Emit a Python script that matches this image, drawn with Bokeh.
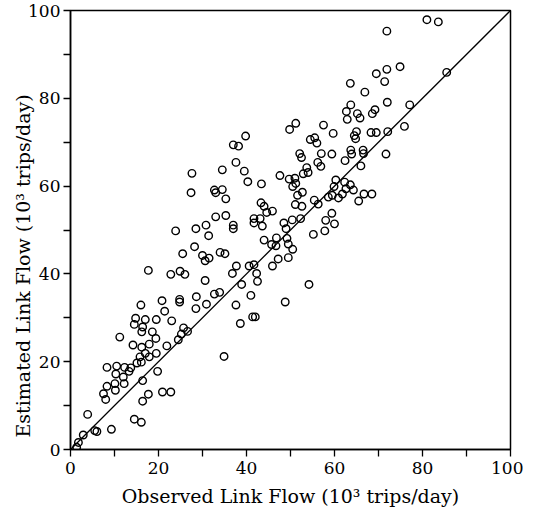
from bokeh.plotting import figure
from bokeh.models import Range1d, FixedTicker, Slope, ColumnDataSource, Title
from bokeh.embed import file_html
from bokeh.resources import INLINE

observed = [81.0, 83.6, 71.9, 74.9, 71.9, 69.5, 85.5, 63.6, 71.4, 66.9,
            72.0, 77.1, 63.7, 62.7, 65.2, 65.8, 62.9, 68.6, 69.2, 75.9,
            72.1, 68.3, 69.5, 64.5, 65.0, 64.8, 59.7, 57.5, 49.8, 51.2,
            54.5, 55.5, 56.0, 52.1, 52.5, 57.0, 59.4, 63.7, 63.9, 66.5,
            66.6, 62.4, 71.7, 66.0, 56.2, 56.9, 53.7, 54.0, 52.9, 47.6,
            49.7, 51.0, 51.2, 50.5, 60.3, 59.9, 62.3, 63.6, 64.3, 62.6,
            61.8, 60.9, 59.5, 58.6, 66.7, 68.5, 65.5, 52.7, 51.6, 51.1,
            52.6, 55.4, 56.3, 59.4, 58.0, 60.0, 57.8, 55.2, 50.4, 52.3,
            48.5, 49.0, 49.2, 49.5, 50.5, 49.5, 54.2, 48.8,
            23.9, 28.5, 30.8, 31.4, 33.0, 35.3, 37.0, 37.0, 41.7, 43.1,
            41.7, 43.6, 44.6, 45.9, 44.0, 43.3, 44.0, 45.7, 46.7, 46.8,
            45.9, 47.2, 28.2, 25.5, 30.0, 30.6, 31.5, 34.0, 35.1, 37.7,
            36.8, 40.6, 41.7, 42.3, 42.5, 38.9, 41.0, 37.6, 38.6, 41.4,
            42.0, 34.9, 17.7, 22.8, 24.9, 26.0, 30.6, 32.7, 33.9, 28.6,
            28.5, 30.9, 24.8, 24.8, 20.8, 21.4, 23.0, 16.0, 14.8, 14.5,
            17.0, 19.5, 16.4, 16.2, 18.6, 19.4, 25.7, 25.2, 26.6, 24.5,
            11.2, 14.2, 16.2, 17.9, 21.9, 15.8, 17.0, 17.9, 19.5, 16.1,
            15.1, 19.8, 16.4, 12.3, 13.7, 13.3, 12.0, 12.2, 10.5, 10.3,
            8.3, 10.2, 8.3, 7.5, 8.0, 10.1, 20.9, 22.8, 17.7, 16.4,
            14.5, 16.1, 3.9, 5.5, 6.0, 9.3, 2.9, 1.8, 1.4,
            39.8, 37.0, 38.2, 37.6, 27.6, 34.5, 39.5, 40.3, 43.4, 27.4,
            32.7, 33.0, 34.5, 35.3]

estimated = [97.9, 97.4, 95.3, 87.2, 86.6, 85.6, 85.9, 83.4, 83.8, 81.4,
             79.1, 78.5, 78.5, 77.0, 76.5, 75.5, 75.2, 76.5, 77.4, 73.6,
             72.4, 72.2, 72.2, 71.5, 72.4, 70.8, 72.0, 73.9, 72.9, 74.3,
             70.6, 71.0, 69.8, 67.4, 66.5, 67.4, 67.3, 68.2, 67.3, 68.2,
             67.4, 65.8, 67.3, 64.6, 65.4, 64.5, 64.2, 63.1, 62.8, 62.4,
             61.6, 61.8, 60.6, 59.9, 61.4, 59.9, 60.9, 60.3, 59.1, 59.4,
             58.2, 57.3, 57.9, 57.5, 58.2, 58.2, 56.6, 58.6, 57.9, 55.8,
             55.4, 56.8, 55.9, 53.8, 52.2, 51.4, 49.8, 49.0, 52.3, 52.6,
             51.6, 50.3, 48.1, 46.8, 45.6, 43.7, 37.6, 33.6,
             49.8, 50.3, 51.1, 48.7, 53.0, 53.3, 51.1, 50.3, 52.6, 52.6,
             51.6, 50.9, 54.0, 54.3, 55.4, 56.2, 47.7, 46.7, 46.4, 48.2,
             41.8, 43.4, 46.2, 44.6, 44.2, 43.0, 43.6, 44.9, 44.6, 41.8,
             40.1, 41.8, 42.1, 40.1, 38.3, 37.6, 35.1, 32.9, 28.7, 30.2,
             30.2, 21.2, 40.8, 39.9, 40.6, 39.9, 38.5, 35.4, 35.8, 34.8,
             32.1, 33.1, 34.2, 33.6, 33.9, 31.5, 29.3, 32.9, 29.9, 28.5,
             29.6, 29.6, 27.9, 26.8, 26.8, 25.3, 27.7, 26.3, 26.9, 25.0,
             25.6, 23.8, 23.3, 24.0, 23.6, 21.1, 21.9, 21.1, 21.9, 19.9,
             19.7, 17.8, 15.7, 18.7, 18.6, 17.8, 16.5, 15.0, 19.0, 17.2,
             18.7, 13.5, 14.4, 12.7, 11.4, 15.0, 13.1, 13.1, 12.6, 11.0,
             6.9, 6.2, 8.0, 4.3, 4.1, 4.6, 3.3, 1.6, 0.5,
             71.4, 69.4, 69.1, 65.4, 62.9, 63.7, 63.4, 61.0, 60.5, 58.5,
             59.1, 58.5, 59.2, 57.1]

tick_values = [0, 10, 20, 30, 40, 50, 60, 70, 80, 90, 100]
tick_labels = {10: "", 30: "", 50: "", 70: "", 90: ""}
x_title = "Observed Link Flow (10³ trips/day)"
y_title = "Estimated Link Flow (10³ trips/day)"

src = ColumnDataSource(dict(x=observed, y=estimated))

p = figure(width=523, height=509, output_backend="svg", toolbar_location=None,
           x_range=Range1d(0, 100), y_range=Range1d(0, 100),
           min_border_left=70, min_border_right=13, min_border_top=10, min_border_bottom=59)
p.background_fill_color = "white"
p.border_fill_color = "white"
p.outline_line_color = "black"
p.outline_line_width = 1.5
p.xgrid.visible = False
p.ygrid.visible = False

p.add_layout(Slope(gradient=1, y_intercept=0, line_color="black", line_width=1.3))
p.scatter("x", "y", source=src, size=7.5, marker="circle", fill_color="white",
          fill_alpha=0, line_color="black", line_width=1.4)

for ax in (p.xaxis[0], p.yaxis[0]):
    ax.ticker = FixedTicker(ticks=tick_values)
    ax.major_label_overrides = tick_labels
    ax.minor_tick_line_color = None
    ax.major_tick_in = 0
    ax.major_tick_out = 7
    ax.axis_line_width = 1.5
    ax.axis_line_color = "black"
    ax.major_tick_line_width = 1.3
    ax.major_label_text_font = "DejaVu Serif"
    ax.major_label_text_font_size = "17px"
    ax.major_label_text_color = "black"
    ax.axis_label_text_font = "DejaVu Serif"
    ax.axis_label_text_font_size = "19px"
    ax.axis_label_text_font_style = "normal"
    ax.axis_label_text_color = "black"

p.xaxis.major_label_standoff = 5
p.yaxis.major_label_standoff = 3
p.xaxis.axis_label_standoff = 8
p.xaxis.axis_label = x_title
p.yaxis.major_label_orientation = "horizontal"

ytitle = Title(text=y_title, align="left", offset=12, standoff=-17,
               text_font="DejaVu Serif", text_font_size="19px",
               text_font_style="normal", text_color="black")
p.add_layout(ytitle, "left")

open("out.html", "w").write(file_html(p, INLINE))
